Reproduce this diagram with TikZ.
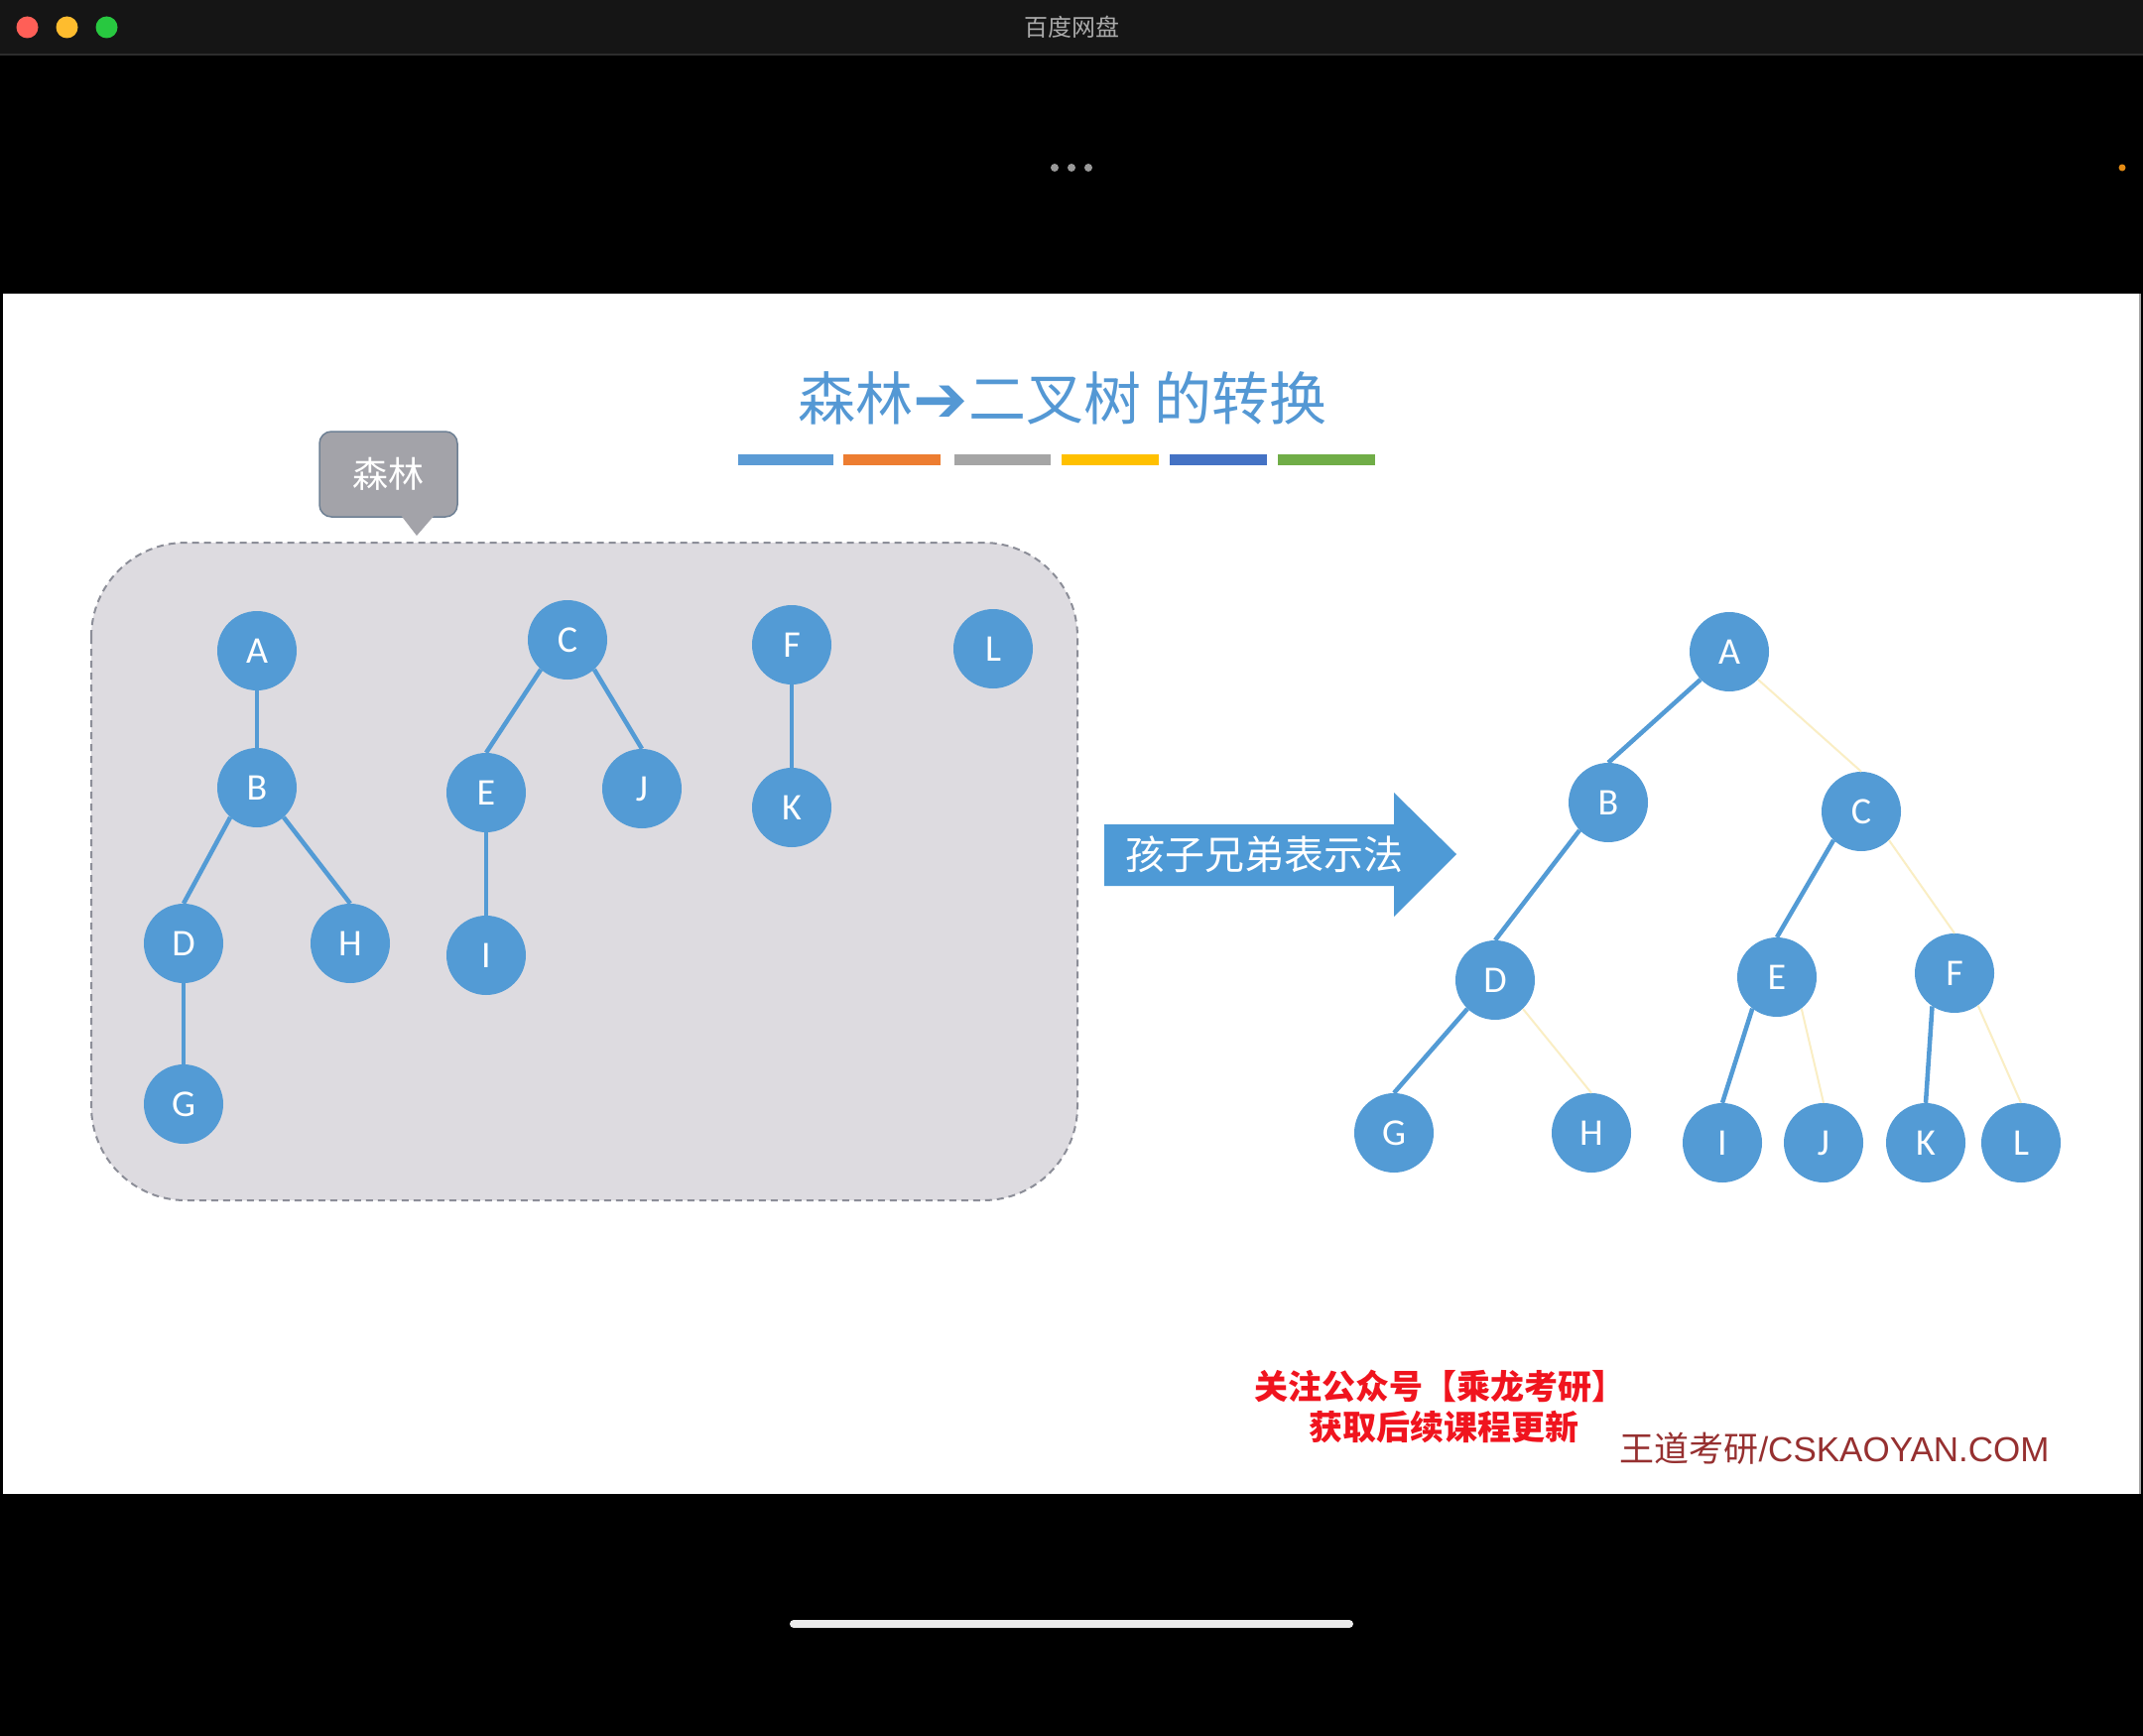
\documentclass[tikz,border=0pt]{standalone}
\usepackage{fontspec}
\setmainfont{Carlito}
\newfontfamily\cjk{Noto Sans CJK SC}
\newfontfamily\arialf{Liberation Sans}
\newfontfamily\dejavu{DejaVu Sans}
\definecolor{nodeblue}{RGB}{83,155,213}
\definecolor{edgeyellow}{RGB}{250,238,196}
\definecolor{boxfill}{RGB}{221,219,224}
\definecolor{boxline}{RGB}{140,142,152}
\definecolor{tipfill}{RGB}{163,163,169}
\definecolor{tipline}{RGB}{110,128,148}
\definecolor{titleblue}{RGB}{84,152,212}
\definecolor{arrowblue}{RGB}{78,154,214}
\definecolor{barA}{RGB}{91,155,213}
\definecolor{barB}{RGB}{237,125,49}
\definecolor{barC}{RGB}{165,165,165}
\definecolor{barD}{RGB}{255,192,0}
\definecolor{barE}{RGB}{68,114,196}
\definecolor{barF}{RGB}{112,173,71}
\definecolor{redtxt}{RGB}{240,20,30}
\definecolor{browntxt}{RGB}{150,48,48}
\definecolor{titlebar}{RGB}{21,21,21}
\definecolor{sepline}{RGB}{45,45,45}
\definecolor{lightred}{RGB}{255,95,87}
\definecolor{lightyel}{RGB}{254,188,46}
\definecolor{lightgrn}{RGB}{40,200,64}
\definecolor{wintext}{RGB}{170,170,170}
\definecolor{orangedot}{RGB}{230,140,20}
\definecolor{homebar}{RGB}{235,235,235}
\tikzset{
  tnode/.style={circle, fill=nodeblue, minimum size=80pt, inner sep=0pt, text=white, font=\fontsize{38}{40}\selectfont},
  blueedge/.style={draw=nodeblue, line width=4.5pt},
  yedge/.style={draw=edgeyellow, line width=2pt},
}
\begin{document}
\begin{tikzpicture}[x=1pt,y=-1pt]
\useasboundingbox (0,0) rectangle (2160,1750);
% window background
\fill[black] (0,0) rectangle (2160,1750);
\fill[titlebar] (0,0) rectangle (2160,55);
\draw[line width=2pt, sepline] (0,55) -- (2160,55);
\fill[lightred] (27.5,27.5) circle (11);
\fill[lightyel] (67.5,27.5) circle (11);
\fill[lightgrn] (107.5,27.5) circle (11);
\node[text=wintext, font=\cjk\fontsize{24}{26}\selectfont] (wintitle) at (1080,27.5) {百度网盘};
\fill[gray!80] (1063,169) circle (4) (1080,169) circle (4) (1097,169) circle (4);
\fill[orangedot] (2139,169) circle (3.5);
% slide
\fill[white] (3,296) rectangle (2157,1506);
\draw[gray!70, line width=2pt] (2157,296) -- (2157,1506);
% bottom bar
\draw[homebar, line width=8pt, line cap=round] (800,1637) -- (1360,1637);
% title
\node[text=titleblue, font=\cjk\fontsize{58}{60}\selectfont] (title) at (1071,401) {森林\raisebox{-2pt}{\dejavu\fontsize{66}{60}\selectfont ➔}二叉树 的转换};
\fill[barA] (744,458) rectangle (840,469);
\fill[barB] (850,458) rectangle (948,469);
\fill[barC] (962,458) rectangle (1059,469);
\fill[barD] (1070,458) rectangle (1168,469);
\fill[barE] (1179,458) rectangle (1277,469);
\fill[barF] (1288,458) rectangle (1386,469);
% forest box
\draw[fill=boxfill, draw=boxline, line width=2pt, dash pattern=on 7pt off 5pt, rounded corners=95pt] (92,547) rectangle (1086,1210);
% tooltip
\draw[fill=tipfill, draw=tipline, line width=1.5pt, rounded corners=12pt] (322,435) rectangle (461,521);
\fill[tipfill] (403,518) -- (420,540) -- (439,518) -- cycle;
\node[text=white, font=\cjk\fontsize{36}{40}\selectfont] (tiptext) at (391,478) {森林};
% left forest nodes
\node[tnode] (lA) at (259,656) {A};
\node[tnode] (lB) at (259,794) {B};
\node[tnode] (lD) at (185,951) {D};
\node[tnode] (lH) at (353,951) {H};
\node[tnode] (lG) at (185,1113) {G};
\node[tnode] (lC) at (572,645) {C};
\node[tnode] (lE) at (490,799) {E};
\node[tnode] (lJ) at (647,795) {J};
\node[tnode] (lI) at (490,963) {I};
\node[tnode] (lF) at (798,650) {F};
\node[tnode] (lK) at (798,814) {K};
\node[tnode] (lL) at (1001,654) {L};
\draw[blueedge] (lA) -- (lB);
\draw[blueedge] (lB.228) -- (lD.north);
\draw[blueedge] (lB.312) -- (lH.north);
\draw[blueedge] (lD) -- (lG);
\draw[blueedge] (lC.228) -- (lE.north);
\draw[blueedge] (lC.312) -- (lJ.north);
\draw[blueedge] (lE) -- (lI);
\draw[blueedge] (lF) -- (lK);
% big arrow
\fill[arrowblue] (1113,831) -- (1405,831) -- (1405,799) -- (1468,861) -- (1405,924) -- (1405,893) -- (1113,893) -- cycle;
\node[text=white, font=\cjk\fontsize{40}{44}\selectfont] (arrowtext) at (1274,861) {孩子兄弟表示法};
% binary tree
\node[tnode] (rA) at (1743,657) {A};
\node[tnode] (rB) at (1621,809) {B};
\node[tnode] (rC) at (1876,818) {C};
\node[tnode] (rD) at (1507,988) {D};
\node[tnode] (rE) at (1791,985) {E};
\node[tnode] (rF) at (1970,981) {F};
\node[tnode] (rG) at (1405,1142) {G};
\node[tnode] (rH) at (1604,1142) {H};
\node[tnode] (rI) at (1736,1152) {I};
\node[tnode] (rJ) at (1838,1152) {J};
\node[tnode] (rK) at (1941,1152) {K};
\node[tnode] (rL) at (2037,1152) {L};
\draw[blueedge] (rA.224) -- (rB.north);
\draw[blueedge] (rB.224) -- (rD.north);
\draw[blueedge] (rD.226) -- (rG.north);
\draw[blueedge] (rC.226) -- (rE.north);
\draw[blueedge] (rE.232) -- (rI.north);
\draw[blueedge] (rF.236) -- (rK.north);
\draw[yedge] (rA.316) -- (rC.north);
\draw[yedge] (rD.314) -- (rH.north);
\draw[yedge] (rC.314) -- (rF.north);
\draw[yedge] (rE.308) -- (rJ.north);
\draw[yedge] (rF.306) -- (rL.north);
% footer
\node[text=redtxt, font=\cjk\bfseries\fontsize{34}{38}\selectfont] (foot1) at (1451,1397) {关注公众号【乘龙考研】};
\node[text=redtxt, font=\cjk\bfseries\fontsize{34}{38}\selectfont] (foot2) at (1455,1438) {获取后续课程更新};
\node[text=browntxt, font=\fontsize{35}{38}\selectfont] (foot3) at (1849,1460) {{\cjk 王道考研}{\arialf /CSKAOYAN.COM}};
\end{tikzpicture}
\end{document}
